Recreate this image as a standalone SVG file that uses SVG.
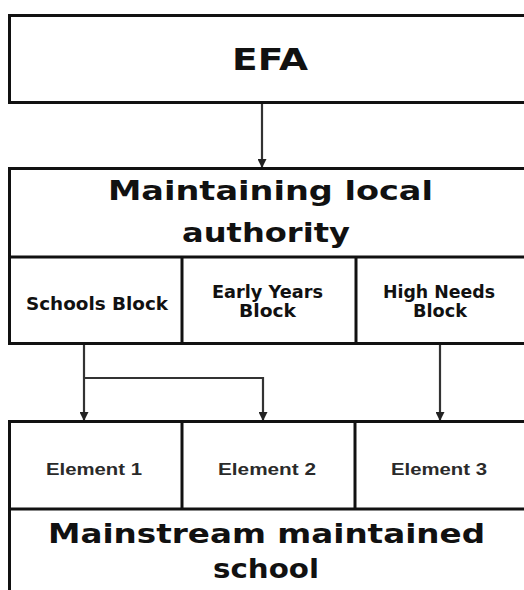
<svg xmlns="http://www.w3.org/2000/svg" width="524" height="590" viewBox="0 0 524 590">
<defs>
<style>
.box{fill:#fff;stroke:#111;stroke-width:3}
.div{stroke:#111;stroke-width:3}
.con{fill:none;stroke:#333;stroke-width:2.2}
text{font-family:"DejaVu Sans","Liberation Sans",Arial,sans-serif;font-weight:bold;fill:#111;text-anchor:middle}
.big{font-size:31px}
.mid{font-size:27px}
.sm{font-size:17px}
.el{font-family:"Liberation Sans",Arial,sans-serif;font-size:17px;font-weight:bold;fill:#2a2a2a}
</style>
<marker id="ah" markerWidth="9" markerHeight="9" refX="8" refY="4.5" orient="auto" markerUnits="userSpaceOnUse">
<path d="M0,0 L9,4.5 L0,9 z" fill="#222"/>
</marker>
</defs>
<rect width="524" height="590" fill="#fff"/>
<g id="connectors">
<line class="con" x1="262" y1="103" x2="262" y2="167" marker-end="url(#ah)"/>
<line class="con" x1="84" y1="344" x2="84" y2="420" marker-end="url(#ah)"/>
<polyline class="con" points="84,378 263,378 263,420" marker-end="url(#ah)"/>
<line class="con" x1="440" y1="344" x2="440" y2="420" marker-end="url(#ah)"/>
</g>
<g id="efa">
<rect class="box" x="9.5" y="15.5" width="540" height="87"/>
<text class="big" x="270" y="70" textLength="76" lengthAdjust="spacingAndGlyphs">EFA</text>
</g>
<g id="local-authority">
<rect class="box" x="9.5" y="168.5" width="540" height="175"/>
<line class="div" x1="9" y1="257" x2="540" y2="257"/>
<line class="div" x1="182" y1="257" x2="182" y2="343"/>
<line class="div" x1="356" y1="257" x2="356" y2="343"/>
<text class="mid" x="270.5" y="200" textLength="325" lengthAdjust="spacingAndGlyphs">Maintaining local</text>
<text class="mid" x="266" y="242" textLength="168" lengthAdjust="spacingAndGlyphs">authority</text>
</g>
<g id="schools-block">
<text class="sm" x="97" y="310" textLength="142" lengthAdjust="spacingAndGlyphs">Schools Block</text>
</g>
<g id="early-years-block">
<text class="sm" x="267.5" y="298" textLength="111" lengthAdjust="spacingAndGlyphs">Early Years</text>
<text class="sm" x="267.5" y="317" textLength="57" lengthAdjust="spacingAndGlyphs">Block</text>
</g>
<g id="high-needs-block">
<text class="sm" x="439" y="298" textLength="112" lengthAdjust="spacingAndGlyphs">High Needs</text>
<text class="sm" x="440" y="317" textLength="54" lengthAdjust="spacingAndGlyphs">Block</text>
</g>
<g id="school">
<rect class="box" x="9.5" y="421.5" width="540" height="200"/>
<line class="div" x1="9" y1="509" x2="540" y2="509"/>
<line class="div" x1="182" y1="421" x2="182" y2="509"/>
<line class="div" x1="355" y1="421" x2="355" y2="509"/>
<text class="mid" x="266.5" y="543" textLength="437" lengthAdjust="spacingAndGlyphs">Mainstream maintained</text>
<text class="mid" x="266" y="578" textLength="106" lengthAdjust="spacingAndGlyphs">school</text>
</g>
<g id="element-1"><text class="el" x="94" y="475" textLength="96" lengthAdjust="spacingAndGlyphs">Element 1</text></g>
<g id="element-2"><text class="el" x="267" y="475" textLength="98" lengthAdjust="spacingAndGlyphs">Element 2</text></g>
<g id="element-3"><text class="el" x="439" y="475" textLength="96" lengthAdjust="spacingAndGlyphs">Element 3</text></g>
</svg>
